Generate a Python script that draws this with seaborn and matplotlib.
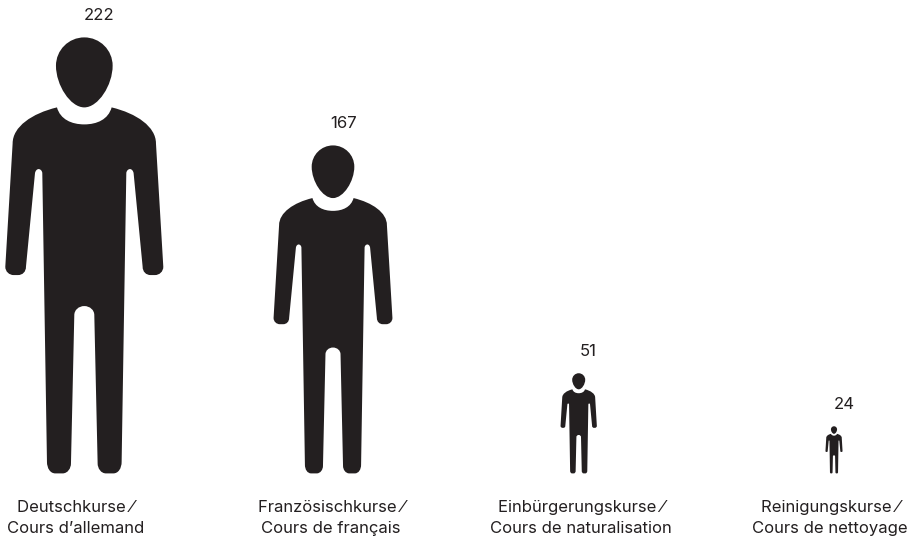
import numpy as np
import pandas as pd
import matplotlib
matplotlib.use("Agg")
import matplotlib.pyplot as plt
from matplotlib.path import Path
import seaborn as sns

categories = ["Deutschkurse ⁄\nCours d’allemand", "Französischkurse ⁄\nCours de français",
              "Einbürgerungskurse ⁄\nCours de naturalisation", "Reinigungskurse ⁄\nCours de nettoyage"]
values = [222, 167, 51, 24]

W, H = 920, 539
BASE_PX = 473.4
PX_PER_UNIT = 436 / 222
figure_x = [84.3, 333, 578.7, 834]
value_label_x = [99.5, 344, 588, 844]
category_label_x = [75.5, 331, 581, 830]
INK = "#231f20"
TEXT = "#231f20"

sns.set_theme(style="white")
plt.rcParams["font.family"] = ["Inter", "DejaVu Sans"]

# Silhouette outline: half-shapes measured on a 1308-high figure, centre line at 0, y downwards from top 0
TOP, BASE = 112, 1420
def body_half():
    # list of (code, points) going down the right side from the collar centre
    return [
        ((38, 373), (72, 358), (82, 322)),
        ((157, 340), (215, 380), (215, 430)),
        ((237, 800),),
        ((237, 815), (225, 825), (212, 825)),
        ((199, 825),),
        ((185, 825), (175, 815), (175, 800)),
        ((148, 520),),
        ((147, 512), (142, 507), (137, 507)),
        ((132, 507), (126, 512), (126, 520)),
        ((112, 1385),),
        ((112, 1405), (102, 1420), (87, 1420)),
        ((65, 1420),),
        ((50, 1420), (40, 1405), (40, 1390)),
        ((30, 945),),
        ((30, 930), (17, 918), (0, 918)),
    ]

def silhouette():
    verts, codes = [], []
    def add(p, c):
        verts.append(((p[0]) / 1308, (BASE - p[1]) / 1308))
        codes.append(c)
    # head
    head = [(0, 112), (47, 112), (85, 150), (85, 197), (85, 255), (42, 322), (0, 322),
            (-42, 322), (-85, 255), (-85, 197), (-85, 150), (-47, 112), (0, 112)]
    add(head[0], Path.MOVETO)
    for p in head[1:]:
        add(p, Path.CURVE4)
    add(head[0], Path.CLOSEPOLY)
    # body: right side, then mirrored left side
    segs = body_half()
    start = (0, 373)
    add(start, Path.MOVETO)
    for seg in segs:
        for p in seg:
            add(p, Path.CURVE4 if len(seg) == 3 else Path.LINETO)
    # walk back along the left side
    pts = [start] + [s[-1] for s in segs]
    for i in range(len(segs) - 1, -1, -1):
        seg = segs[i]
        if len(seg) == 3:
            add((-seg[1][0], seg[1][1]), Path.CURVE4)
            add((-seg[0][0], seg[0][1]), Path.CURVE4)
            add((-pts[i][0], pts[i][1]), Path.CURVE4)
        else:
            add((-pts[i][0], pts[i][1]), Path.LINETO)
    add(start, Path.CLOSEPOLY)
    return Path(np.array(verts), codes)

fig = plt.figure(figsize=(W / 100, H / 100), dpi=100)
ax = fig.add_axes([0, (H - BASE_PX) / H, 1, BASE_PX / H])
ax.set_xlim(0, W)
ax.set_ylim(0, BASE_PX / PX_PER_UNIT)

df = pd.DataFrame({"category": categories, "value": values, "x": figure_x, "base": 0})
# A custom marker is drawn at 0.5 * sqrt(s) points per path unit; the path is 1 unit high
marker_sizes = {v: (2 * v * PX_PER_UNIT * 72 / fig.dpi) ** 2 for v in values}
sns.scatterplot(data=df, x="x", y="base", size="value", sizes=marker_sizes,
                marker=silhouette(), color=INK, linewidth=0, edgecolor="none",
                legend=False, clip_on=False, ax=ax)

for x, v in zip(value_label_x, values):
    ax.annotate(str(v), xy=(x, v), xytext=(0, 21.5 * 72 / fig.dpi), textcoords="offset points",
                ha="center", va="center", fontsize=12, color=TEXT, annotation_clip=False)

ax.set_xticks(category_label_x, categories, fontsize=12, color=TEXT, linespacing=1.45)
ax.tick_params(axis="x", length=0, pad=19.5)
ax.set_yticks([])
ax.set_xlabel("")
ax.set_ylabel("")
sns.despine(ax=ax, left=True, bottom=True)
ax.patch.set_visible(False)
fig.savefig("out.png", dpi=100, facecolor="white")
